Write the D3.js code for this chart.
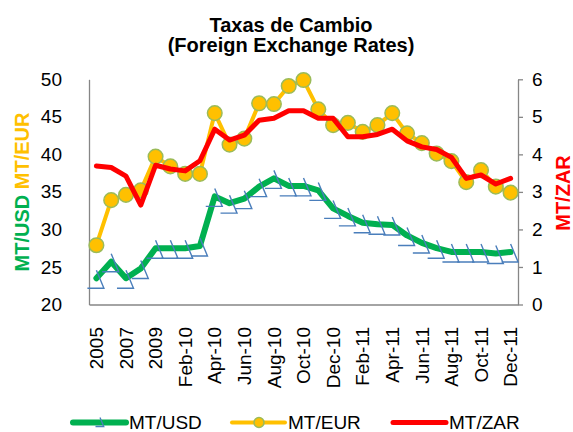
<!DOCTYPE html>
<html>
<head>
<meta charset="utf-8">
<script src="https://cdn.jsdelivr.net/npm/d3@7"></script>
<style>
  body { margin: 0; background: #fff; }
  svg { font-family: "Liberation Sans", Arial, sans-serif; }
</style>
</head>
<body>
<div id="chart"></div>
<script>
var categories = ['2005', '2006', '2007', '2008', '2009',
  'Jan-10', 'Feb-10', 'Mar-10', 'Apr-10', 'May-10', 'Jun-10', 'Jul-10', 'Aug-10', 'Sep-10', 'Oct-10', 'Nov-10', 'Dec-10',
  'Jan-11', 'Feb-11', 'Mar-11', 'Apr-11', 'May-11', 'Jun-11', 'Jul-11', 'Aug-11', 'Sep-11', 'Oct-11', 'Nov-11', 'Dec-11'];

var usd = [23.5, 25.7, 23.5, 24.8, 27.5, 27.5, 27.5, 27.8, 34.4, 33.5, 34.1, 35.7, 36.8, 35.8, 35.8, 35.2,
  32.8, 31.8, 30.9, 30.7, 30.6, 29.2, 28.2, 27.5, 27.0, 27.0, 27.0, 26.8, 27.0];
var eur = [27.9, 33.9, 34.6, 35.2, 39.7, 38.4, 37.4, 37.4, 45.5, 41.3, 42.1, 46.8, 46.7, 49.1, 49.9, 46.0,
  43.9, 44.2, 43.0, 43.9, 45.5, 42.8, 41.5, 40.1, 39.1, 36.3, 37.9, 35.7, 34.9];
var zar = [3.69, 3.65, 3.42, 2.65, 3.71, 3.61, 3.56, 3.83, 4.67, 4.38, 4.51, 4.91, 4.96, 5.16, 5.16, 4.96,
  4.96, 4.47, 4.47, 4.53, 4.67, 4.36, 4.20, 4.13, 3.92, 3.36, 3.45, 3.21, 3.36];

var leftTicks = [20, 25, 30, 35, 40, 45, 50];
var rightTicks = [0, 1, 2, 3, 4, 5, 6];

var green = '#00b050', yellow = '#ffc000', red = '#ff0000', blue = '#4a7ebb', axisGrey = '#868686';

var svg = d3.select('#chart')
  .append('svg')
    .attr('width', 573)
    .attr('height', 432);

var x = d3.scaleBand().domain(categories).range([89, 518]);
var yL = d3.scaleLinear().domain([20, 50]).range([304.5, 79.3]);
var yR = d3.scaleLinear().domain([0, 6]).range([304.5, 79.3]);

function cx(i) { return x(categories[i]) + x.bandwidth() / 2; }

// title
svg.append('text')
  .attr('x', 291).attr('y', 31.5)
  .attr('text-anchor', 'middle')
  .style('font-size', '20px').style('font-weight', 'bold')
  .text('Taxas de Cambio');
svg.append('text')
  .attr('x', 291).attr('y', 51.5)
  .attr('text-anchor', 'middle')
  .style('font-size', '20px').style('font-weight', 'bold')
  .text('(Foreign Exchange Rates)');

// axes
var gL = svg.append('g')
  .attr('transform', 'translate(89,0)')
  .call(d3.axisLeft(yL).tickValues(leftTicks).tickSize(0).tickPadding(27));
var gR = svg.append('g')
  .attr('transform', 'translate(518,0)')
  .call(d3.axisRight(yR).tickValues(rightTicks).tickFormat(d3.format('d'))
    .tickSizeInner(5).tickSizeOuter(0).tickPadding(9));
var gB = svg.append('g')
  .attr('transform', 'translate(0,304.5)')
  .call(d3.axisBottom(x).tickSize(0).tickFormat(function(d, i) { return i % 2 == 0 ? d : ''; }));

[gL, gR, gB].forEach(function(g) {
  g.select('.domain').attr('stroke', axisGrey).attr('stroke-width', 1.3);
  g.selectAll('.tick line').attr('stroke', axisGrey).attr('stroke-width', 1.3);
  g.selectAll('text').attr('fill', '#000').style('font-size', '19px').style('font-family', '"Liberation Sans", Arial, sans-serif');
});

gB.selectAll('text')
  .attr('transform', 'rotate(-90)')
  .attr('x', -22.5)
  .attr('y', 0)
  .attr('dy', '0.35em')
  .attr('text-anchor', 'end');

// axis titles
var lt = svg.append('text')
  .attr('transform', 'translate(22,192) rotate(-90)')
  .attr('text-anchor', 'middle')
  .attr('dy', '0.35em')
  .style('font-size', '20px').style('font-weight', 'bold');
lt.append('tspan').attr('fill', green).text('MT/USD');
lt.append('tspan').attr('fill', yellow).text(' MT/EUR');

svg.append('text')
  .attr('transform', 'translate(563,193) rotate(-90)')
  .attr('text-anchor', 'middle')
  .attr('dy', '0.35em')
  .attr('fill', red)
  .style('font-size', '20px').style('font-weight', 'bold')
  .text('MT/ZAR');

// lines
var lineL = d3.line().x(function(d, i) { return cx(i); }).y(function(d) { return yL(d); });
var lineR = d3.line().x(function(d, i) { return cx(i); }).y(function(d) { return yR(d); });

function markerPath(mx, my, s) {
  return 'M' + mx + ',' + (my - 8 * s) + 'L' + (mx + 7.5 * s) + ',' + (my + 10 * s) + 'L' + (mx - 9 * s) + ',' + (my + 10 * s);
}

// MT/USD
svg.append('path')
  .attr('d', lineL(usd))
  .attr('fill', 'none')
  .attr('stroke', green)
  .attr('stroke-width', 6)
  .attr('stroke-linejoin', 'round')
  .attr('stroke-linecap', 'round');
svg.append('g').selectAll('path')
  .data(usd)
  .enter().append('path')
    .attr('d', function(d, i) { return markerPath(cx(i), yL(d), 1); })
    .attr('fill', 'none')
    .attr('stroke', blue)
    .attr('stroke-width', 1.4);

// MT/EUR
svg.append('path')
  .attr('d', lineL(eur))
  .attr('fill', 'none')
  .attr('stroke', yellow)
  .attr('stroke-width', 4)
  .attr('stroke-linejoin', 'round');
svg.append('g').selectAll('circle')
  .data(eur)
  .enter().append('circle')
    .attr('cx', function(d, i) { return cx(i); })
    .attr('cy', function(d) { return yL(d); })
    .attr('r', 7.3)
    .attr('fill', yellow)
    .attr('stroke', '#9bbb59')
    .attr('stroke-width', 1.5);

// MT/ZAR
svg.append('path')
  .attr('d', lineR(zar))
  .attr('fill', 'none')
  .attr('stroke', red)
  .attr('stroke-width', 5)
  .attr('stroke-linejoin', 'round')
  .attr('stroke-linecap', 'round');

// legend
var legend = [
  { name: 'MT/USD', color: green, x0: 73, w: 6 },
  { name: 'MT/EUR', color: yellow, x0: 232, w: 4 },
  { name: 'MT/ZAR', color: red, x0: 393, w: 5 }
];
var ly = 422.5;
legend.forEach(function(d, i) {
  svg.append('line')
    .attr('x1', d.x0).attr('x2', d.x0 + 53)
    .attr('y1', ly).attr('y2', ly)
    .attr('stroke', d.color)
    .attr('stroke-width', d.w)
    .attr('stroke-linecap', 'round');
  if (i == 0) {
    svg.append('path')
      .attr('d', markerPath(d.x0 + 27, ly - 1, 0.5))
      .attr('fill', 'none')
      .attr('stroke', blue)
      .attr('stroke-width', 1.3);
  }
  if (i == 1) {
    svg.append('circle')
      .attr('cx', d.x0 + 27).attr('cy', ly)
      .attr('r', 5)
      .attr('fill', yellow)
      .attr('stroke', '#9bbb59')
      .attr('stroke-width', 1.5);
  }
  svg.append('text')
    .attr('x', d.x0 + 56).attr('y', ly)
    .attr('dy', '0.33em')
    .style('font-size', '19px')
    .text(d.name);
});
</script>
</body>
</html>
